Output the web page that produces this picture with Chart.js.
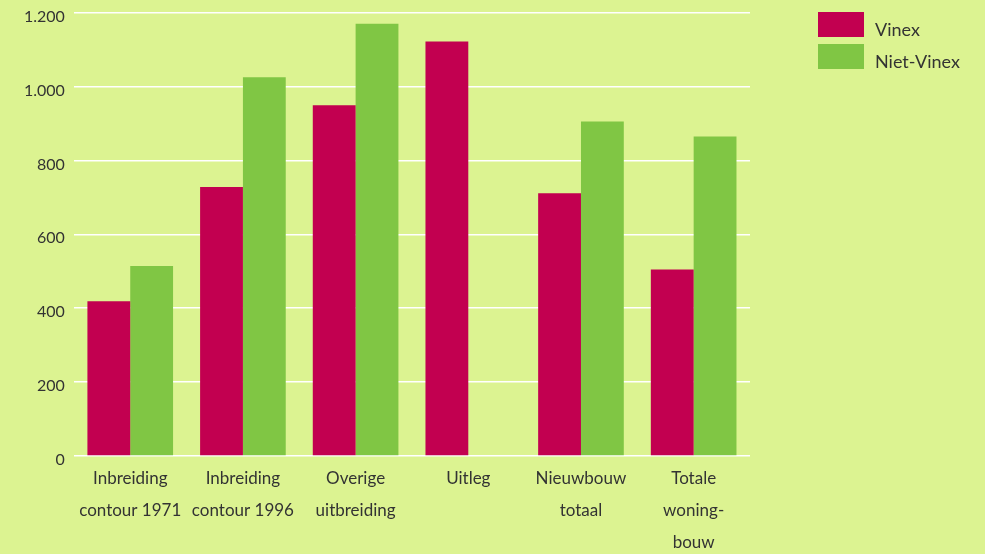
<!DOCTYPE html>
<html>
<head>
<meta charset="utf-8">
<script src="https://cdn.jsdelivr.net/npm/chart.js@4"></script>
<style>
  html, body { margin: 0; padding: 0; background: #dcf391; overflow: hidden; }
  #wrap { width: 985px; height: 560px; position: relative; top: -6px; }
</style>
</head>
<body>
<div id="wrap"><canvas id="Woningbouw"></canvas></div>
<script>
const categories = [
    ['Inbreiding', 'contour 1971'],
    ['Inbreiding', 'contour 1996'],
    ['Overige', 'uitbreiding'],
    'Uitleg',
    ['Nieuwbouw', 'totaal'],
    ['Totale', 'woning-', 'bouw']
];
const vinex = [419, 728, 949, 1122, 711, 505];
const nietVinex = [514, 1025, 1170, 0, 905, 865];
const yTicks = [0, 200, 400, 600, 800, 1000, 1200];

const textColor = '#333333';
const fontFamily = 'Lato, "Open Sans", sans-serif';

// legend drawn by hand so it sits top right, outside the plot
const sideLegend = {
    id: 'sideLegend',
    afterDraw(chart) {
        const c = chart.ctx;
        c.save();
        c.font = '18px ' + fontFamily;
        c.textBaseline = 'middle';
        chart.data.datasets.forEach(function(ds, i) {
            const top = 18 + i * 32;
            c.fillStyle = ds.backgroundColor;
            c.fillRect(818, top, 46, 25);
            c.fillStyle = textColor;
            c.fillText(ds.label, 875, top + 18);
        });
        c.restore();
    }
};

new Chart(document.getElementById('Woningbouw'), {
    type: 'bar',
    data: {
        labels: categories,
        datasets: [{
            label: 'Vinex',
            data: vinex,
            backgroundColor: '#c20050'
        }, {
            label: 'Niet-Vinex',
            data: nietVinex,
            backgroundColor: '#80c644'
        }]
    },
    plugins: [sideLegend],
    options: {
        responsive: true,
        maintainAspectRatio: false,
        animation: false,
        categoryPercentage: 0.76,
        barPercentage: 1.0,
        layout: { padding: { left: 15, right: 235, top: 0, bottom: 0 } },
        plugins: {
            legend: { display: false },
            tooltip: { enabled: false }
        },
        scales: {
            x: {
                grid: { display: false, drawTicks: false },
                border: { display: false },
                // fixed height so the plot bottom stays put; the third label line may run off
                afterFit(axis) {
                    axis.height = 98;
                },
                ticks: {
                    color: textColor,
                    font: { family: fontFamily, size: 17, lineHeight: 1.9 },
                    padding: 6,
                    maxRotation: 0
                }
            },
            y: {
                min: 0,
                max: 1200,
                afterBuildTicks(axis) {
                    axis.ticks = yTicks.map(function(v) { return { value: v }; });
                },
                grid: { color: '#ffffff', lineWidth: 1.5, drawTicks: false },
                border: { display: false },
                ticks: {
                    color: textColor,
                    font: { family: fontFamily, size: 16 },
                    padding: 9,
                    labelOffset: 4,
                    callback: function(v) {
                        return String(v).replace(/\B(?=(\d{3})+(?!\d))/g, '.');
                    }
                }
            }
        }
    }
});
</script>
</body>
</html>
